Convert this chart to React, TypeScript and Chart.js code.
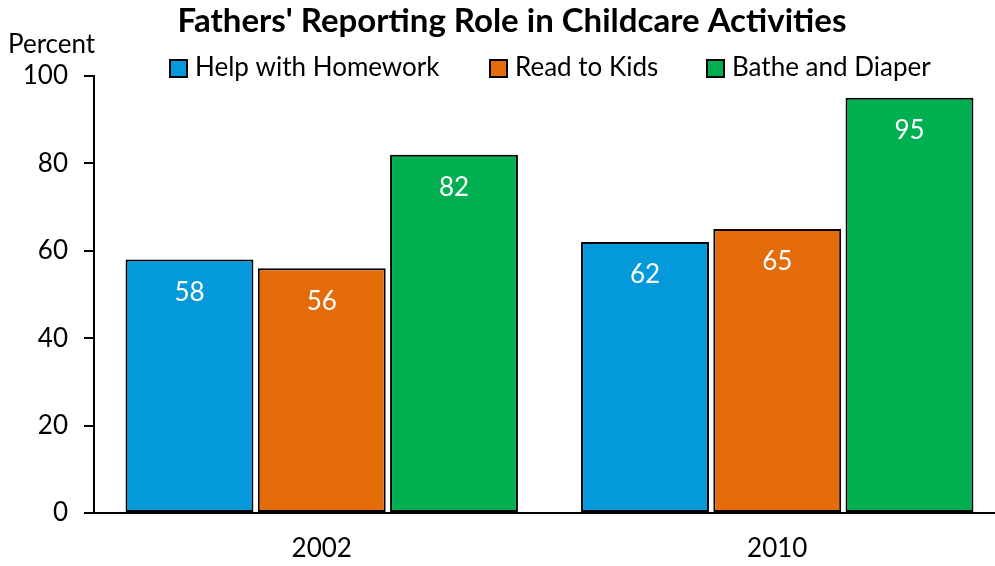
import React, { useEffect, useRef } from "react";
import { Chart, registerables } from "chart.js";

Chart.register(...registerables);

const categories = ["2002", "2010"];
const seriesNames = ["Help with Homework", "Read to Kids", "Bathe and Diaper"];
const helpHomework = [58, 62];
const readToKids = [56, 65];
const batheDiaper = [82, 95];
const seriesColors = ["#0399DB", "#E46C0A", "#00AF50"];
const titleText = "Fathers' Reporting Role in Childcare Activities";
const yAxisLabel = "Percent";

const FONT = "Lato, 'Open Sans', sans-serif";

const overlayPlugin = {
  id: "overlay",
  afterDatasetsDraw(chart: any) {
    const ctx = chart.ctx;
    ctx.save();
    // data labels
    ctx.fillStyle = "#ffffff";
    ctx.font = `26px ${FONT}`;
    ctx.textAlign = "center";
    ctx.textBaseline = "middle";
    chart.data.datasets.forEach((ds: any, i: number) => {
      const meta = chart.getDatasetMeta(i);
      meta.data.forEach((bar: any, j: number) => {
        ctx.fillText(String(ds.data[j]), bar.x, bar.y + 33);
      });
    });
    // title
    ctx.fillStyle = "#000000";
    ctx.font = `bold 33px ${FONT}`;
    ctx.textAlign = "center";
    ctx.fillText(titleText, 512, 21);
    // y axis label
    ctx.font = `26px ${FONT}`;
    ctx.textAlign = "left";
    ctx.fillText(yAxisLabel, 8, 45);
    // legend
    const starts = [170, 490, 707];
    chart.data.datasets.forEach((ds: any, i: number) => {
      const x = starts[i];
      const y = 68;
      ctx.fillStyle = ds.backgroundColor;
      ctx.fillRect(x, y - 8, 17, 17);
      ctx.strokeStyle = "#000";
      ctx.lineWidth = 2;
      ctx.strokeRect(x, y - 8, 17, 17);
      ctx.fillStyle = "#000";
      ctx.textAlign = "left";
      ctx.fillText(ds.label, x + 25, y);
    });
    ctx.restore();
  },
};

export default function App() {
  const ref = useRef<HTMLCanvasElement>(null);
  useEffect(() => {
    document.body.style.margin = "0";
    document.body.style.overflow = "hidden";
    const values = [helpHomework, readToKids, batheDiaper];
    const chart = new Chart(ref.current!, {
      type: "bar",
      data: {
        labels: categories,
        datasets: seriesNames.map((name, i) => ({
          label: name,
          data: values[i],
          backgroundColor: seriesColors[i],
          borderColor: "#000000",
          borderWidth: 2,
          borderSkipped: false,
          categoryPercentage: 0.871,
          barPercentage: 0.967,
        })),
      },
      options: {
        responsive: false,
        animation: false,
        events: [],
        layout: { padding: { top: 76, left: 0, right: 5, bottom: 0 } },
        plugins: { legend: { display: false }, title: { display: false }, tooltip: { enabled: false } },
        scales: {
          x: {
            grid: { display: false, drawTicks: false },
            border: { color: "#000", width: 2 },
            ticks: { color: "#000", font: { family: FONT, size: 26 }, padding: 20 },
            afterFit: (s: any) => { s.height = 53; },
          },
          y: {
            min: 0,
            max: 100,
            ticks: { stepSize: 20, color: "#000", font: { family: FONT, size: 26 }, padding: 16 },
            grid: { drawOnChartArea: false, drawTicks: true, tickLength: 10, color: "#000", lineWidth: 2 },
            border: { color: "#000", width: 2 },
            afterFit: (s: any) => { s.width = 94; },
          },
        },
      },
      plugins: [overlayPlugin],
    });
    return () => chart.destroy();
  }, []);
  return (
    <div style={{ position: "absolute", left: 0, top: 0, width: 995, height: 566, overflow: "hidden" }}>
      <canvas ref={ref} width={1010} height={566} />
    </div>
  );
}
